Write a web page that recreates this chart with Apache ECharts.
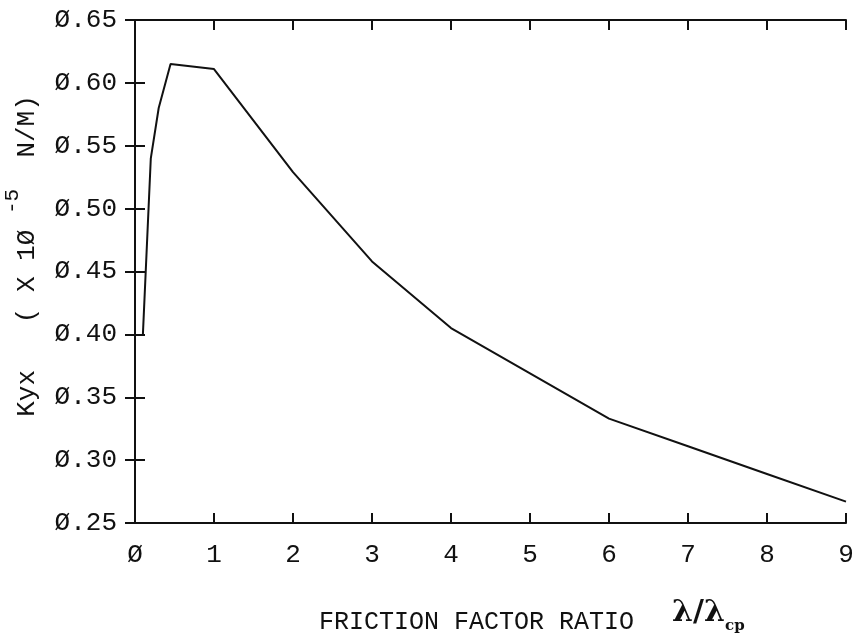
<!DOCTYPE html>
<html>
<head>
<meta charset="utf-8">
<script src="https://cdn.jsdelivr.net/npm/echarts@6/dist/echarts.min.js"></script>
<style>html,body{margin:0;padding:0;background:#fff}#c{width:858px;height:636px}</style>
</head>
<body>
<div id="c"></div>
<script>
// Data
var xValues = [0.1, 0.2, 0.3, 0.45, 1, 2, 3, 4, 5, 6, 7, 8, 9];
var kyxValues = [0.40, 0.54, 0.58, 0.615, 0.611, 0.529, 0.458, 0.405, 0.369, 0.333, 0.311, 0.289, 0.267];
var xTickLabels = ['Ø', '1', '2', '3', '4', '5', '6', '7', '8', '9'];
var yTickLabels = ['Ø.25', 'Ø.30', 'Ø.35', 'Ø.40', 'Ø.45', 'Ø.50', 'Ø.55', 'Ø.60', 'Ø.65'];
var xTitle = 'FRICTION FACTOR RATIO';

var FONT = 'Liberation Mono';
var INK = '#111';

var points = xValues.map(function (x, i) { return [x, kyxValues[i]]; });

var chart = echarts.init(document.getElementById('c'), null, { renderer: 'canvas' });

var tickStyle = { show: true, inside: true, length: 10, lineStyle: { color: INK, width: 2 } };
var lineStyle = { show: true, lineStyle: { color: INK, width: 2 } };

chart.setOption({
  animation: false,
  backgroundColor: '#fff',
  grid: { left: 135, right: 12, top: 20, bottom: 113, containLabel: false },
  xAxis: [{
    type: 'value', min: 0, max: 9, interval: 1, position: 'bottom',
    axisLine: lineStyle, axisTick: tickStyle, splitLine: { show: false },
    axisLabel: {
      margin: 19, color: INK, fontFamily: FONT, fontSize: 26,
      formatter: function (v) { return xTickLabels[Math.round(v)]; }
    }
  }, {
    type: 'value', min: 0, max: 9, interval: 1, position: 'top',
    axisLine: lineStyle, axisTick: tickStyle, splitLine: { show: false },
    axisLabel: { show: false }
  }],
  yAxis: [{
    type: 'value', min: 0.25, max: 0.65, interval: 0.05, position: 'left',
    axisLine: lineStyle, axisTick: tickStyle, splitLine: { show: false },
    axisLabel: {
      margin: 18, color: INK, fontFamily: FONT, fontSize: 26,
      formatter: function (v) { return yTickLabels[Math.round((v - 0.25) / 0.05)]; }
    }
  }, {
    type: 'value', min: 0.25, max: 0.65, interval: 0.05, position: 'right',
    axisLine: lineStyle, axisTick: tickStyle, splitLine: { show: false },
    axisLabel: { show: false }
  }],
  series: [{
    type: 'line', data: points, xAxisIndex: 0, yAxisIndex: 0,
    showSymbol: false, symbol: 'none',
    lineStyle: { color: INK, width: 2 }
  }],
  graphic: [{
    type: 'text', left: 319, top: 610,
    style: { text: xTitle, fill: INK, font: '25px "Liberation Mono"' }
  }, {
    type: 'text', left: 672, top: 598,
    style: {
      text: '{l|λ/λ}{s|cp}',
      rich: {
        l: { fontFamily: 'DejaVu Serif', fontWeight: 'bold', fontSize: 30, lineHeight: 36, verticalAlign: 'top', fill: INK, color: INK },
        s: { fontFamily: 'DejaVu Serif', fontWeight: 'bold', fontSize: 15, lineHeight: 16, verticalAlign: 'bottom', fill: INK, color: INK }
      }
    }
  }, {
    type: 'text', x: 21, y: 256, rotation: Math.PI / 2,
    style: {
      text: '{a|Kyx   ( X 1Ø }{b|-5}{a|  N/M)}',
      align: 'center', verticalAlign: 'middle',
      rich: {
        a: { fontFamily: FONT, fontSize: 26, lineHeight: 38, verticalAlign: 'bottom', fill: INK, color: INK },
        b: { fontFamily: FONT, fontSize: 21, lineHeight: 22, verticalAlign: 'top', fill: INK, color: INK }
      }
    }
  }]
});
</script>
</body>
</html>
